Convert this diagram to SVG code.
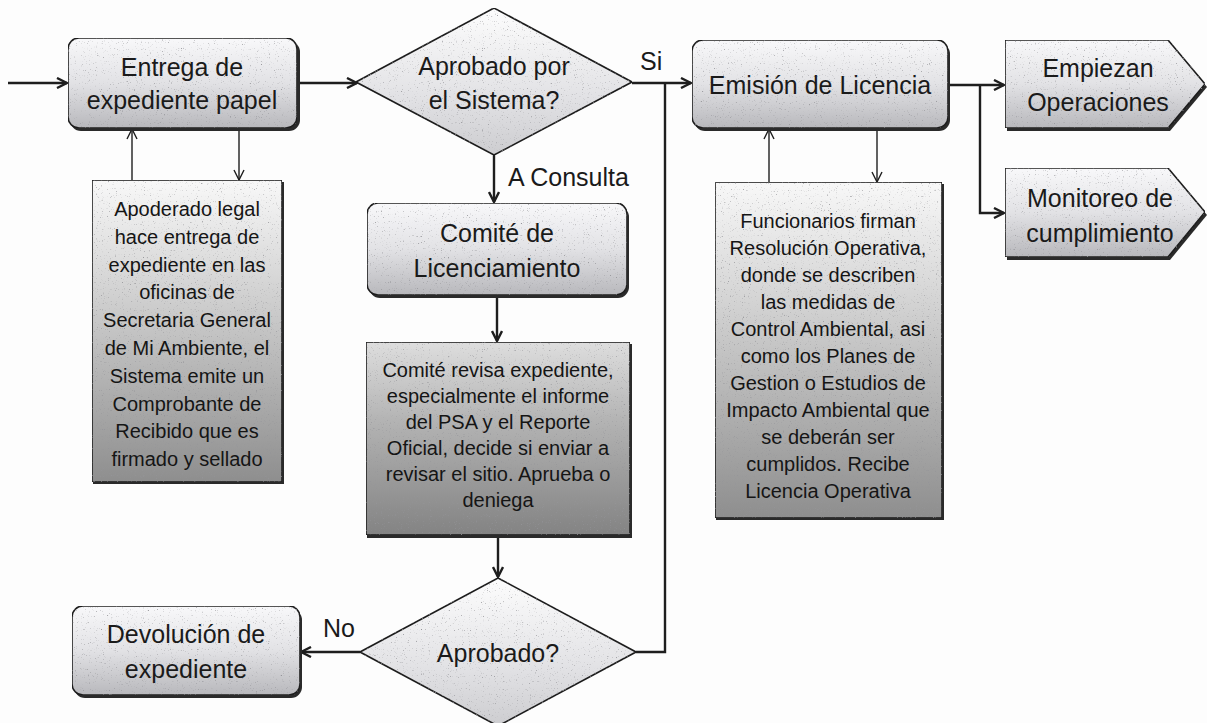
<svg xmlns="http://www.w3.org/2000/svg" width="1207" height="723" viewBox="0 0 1207 723">
<defs>
<linearGradient id="gMain" x1="0" y1="0" x2="0" y2="1">
<stop offset="0" stop-color="#f8f8fa"/><stop offset="0.5" stop-color="#e2e2e5"/><stop offset="1" stop-color="#b8b8bc"/>
</linearGradient>
<linearGradient id="gDia" x1="0" y1="0" x2="0" y2="1">
<stop offset="0" stop-color="#fdfdfd"/><stop offset="0.6" stop-color="#e2e2e5"/><stop offset="1" stop-color="#cdcdd0"/>
</linearGradient>
<linearGradient id="gNote" x1="0" y1="0" x2="0" y2="1">
<stop offset="0" stop-color="#f8f8f8"/><stop offset="0.35" stop-color="#d4d4d4"/><stop offset="1" stop-color="#8e8e8e"/>
</linearGradient>
<linearGradient id="gDark" x1="0" y1="0" x2="0" y2="1">
<stop offset="0" stop-color="#dedede"/><stop offset="0.4" stop-color="#b4b4b4"/><stop offset="1" stop-color="#838383"/>
</linearGradient>
<filter id="noise" x="0" y="0" width="100%" height="100%">
<feTurbulence type="fractalNoise" baseFrequency="0.85" numOctaves="2" seed="3" result="t"/>
<feColorMatrix in="t" type="matrix" values="0 0 0 0 0.3  0 0 0 0 0.3  0 0 0 0 0.32  4 0 0 0 -2.6" result="n"/>
<feComposite in="n" in2="SourceGraphic" operator="in" result="nc"/>
<feMerge><feMergeNode in="SourceGraphic"/><feMergeNode in="nc"/></feMerge>
</filter>
<marker id="ah" viewBox="0 0 12 12" refX="11" refY="6" markerWidth="12" markerHeight="12" markerUnits="userSpaceOnUse" orient="auto">
<path d="M1,1 L11,6 L1,11" fill="none" stroke="#1e1e1e" stroke-width="2.4"/>
</marker>
<marker id="ahs" viewBox="0 0 12 12" refX="11" refY="6" markerWidth="12" markerHeight="12" markerUnits="userSpaceOnUse" orient="auto">
<path d="M1,1 L11,6 L1,11" fill="none" stroke="#1e1e1e" stroke-width="1.4"/>
</marker>
</defs>
<style>
.box{stroke:#1e1e1e;stroke-width:1.6;filter:url(#noise)}
.sh{fill:#2a2a2a}
.lbl{font-family:"Liberation Sans",Arial,sans-serif;font-size:25px;fill:#1a1a1a;text-anchor:middle}
.note{font-family:"Liberation Sans",Arial,sans-serif;font-size:20px;fill:#151515;text-anchor:middle}
.edge{font-family:"Liberation Sans",Arial,sans-serif;font-size:25px;fill:#1a1a1a}
.c{fill:none;stroke:#1e1e1e;stroke-width:2.4}
.cs{fill:none;stroke:#1e1e1e;stroke-width:1.4}
</style>
<rect width="1207" height="723" fill="#fdfdfd"/>

<g id="connectors">
<line class="c" x1="8" y1="83" x2="67" y2="83" marker-end="url(#ah)"/>
<line class="c" x1="298" y1="83" x2="357" y2="83" marker-end="url(#ah)"/>
<line class="c" x1="632" y1="83" x2="691" y2="83" marker-end="url(#ah)"/>
<polyline class="c" points="636,652 665,652 665,83"/>
<line class="c" x1="494" y1="155" x2="494" y2="202" marker-end="url(#ah)"/>
<line class="c" x1="497" y1="296" x2="497" y2="341" marker-end="url(#ah)"/>
<line class="c" x1="498" y1="536" x2="498" y2="577" marker-end="url(#ah)"/>
<line class="c" x1="360" y1="652" x2="301" y2="652" marker-end="url(#ah)"/>
<line class="c" x1="949" y1="85" x2="1004" y2="85" marker-end="url(#ah)"/>
<polyline class="c" points="980,85 980,213 1004,213" marker-end="url(#ah)"/>
<line class="cs" x1="132" y1="180" x2="132" y2="129" marker-end="url(#ahs)"/>
<line class="cs" x1="239" y1="129" x2="239" y2="180" marker-end="url(#ahs)"/>
<line class="cs" x1="769" y1="182" x2="769" y2="129" marker-end="url(#ahs)"/>
<line class="cs" x1="877" y1="129" x2="877" y2="182" marker-end="url(#ahs)"/>
<text class="edge" x="640" y="70">Si</text>
<text class="edge" x="508" y="186">A Consulta</text>
<text class="edge" x="323" y="637">No</text>
</g>

<g id="entrega">
<rect class="sh" x="70" y="41" width="230" height="90" rx="11"/>
<rect class="box" x="68" y="38" width="229" height="90" rx="11" fill="url(#gMain)"/>
<text class="lbl" x="182" y="76">Entrega de</text>
<text class="lbl" x="182" y="109">expediente papel</text>
</g>

<g id="apoderado">
<rect class="sh" x="93" y="182" width="191" height="302"/>
<rect class="box" x="92" y="180" width="190" height="302" fill="url(#gNote)"/>
<text class="note" x="187" y="216">Apoderado legal</text>
<text class="note" x="187" y="244">hace entrega de</text>
<text class="note" x="187" y="272">expediente en las</text>
<text class="note" x="187" y="299">oficinas de</text>
<text class="note" x="187" y="327">Secretaria General</text>
<text class="note" x="187" y="355">de Mi Ambiente, el</text>
<text class="note" x="187" y="383">Sistema emite un</text>
<text class="note" x="187" y="411">Comprobante de</text>
<text class="note" x="187" y="438">Recibido que es</text>
<text class="note" x="187" y="466">firmado y sellado</text>
</g>

<g id="aprobado-sistema">
<polygon class="box" points="494,8 632,82 494,155 356,82" fill="url(#gDia)"/>
<text class="lbl" x="494" y="75">Aprobado por</text>
<text class="lbl" x="494" y="109">el Sistema?</text>
</g>

<g id="comite">
<rect class="sh" x="369" y="206" width="260" height="92" rx="11"/>
<rect class="box" x="367" y="203" width="260" height="92" rx="11" fill="url(#gMain)"/>
<text class="lbl" x="497" y="242">Comité de</text>
<text class="lbl" x="497" y="277">Licenciamiento</text>
</g>

<g id="comite-revisa">
<rect class="sh" x="367" y="344" width="265" height="194"/>
<rect class="box" x="366" y="342" width="264" height="193" fill="url(#gDark)"/>
<text class="note" x="498" y="377">Comité revisa expediente,</text>
<text class="note" x="498" y="403">especialmente el informe</text>
<text class="note" x="498" y="429">del PSA  y el Reporte</text>
<text class="note" x="498" y="455">Oficial, decide si enviar a</text>
<text class="note" x="498" y="481">revisar el sitio. Aprueba o</text>
<text class="note" x="498" y="507">deniega</text>
</g>

<g id="aprobado">
<polygon class="box" points="498,578 636,652 498,726 360,652" fill="url(#gDia)"/>
<text class="lbl" x="498" y="662">Aprobado?</text>
</g>

<g id="devolucion">
<rect class="sh" x="74" y="609" width="228" height="89" rx="11"/>
<rect class="box" x="72" y="606" width="228" height="89" rx="11" fill="url(#gMain)"/>
<text class="lbl" x="186" y="643">Devolución de</text>
<text class="lbl" x="186" y="678">expediente</text>
</g>

<g id="emision">
<rect class="sh" x="694" y="43" width="256" height="88" rx="11"/>
<rect class="box" x="692" y="40" width="256" height="88" rx="11" fill="url(#gMain)"/>
<text class="lbl" x="820" y="94">Emisión de Licencia</text>
</g>

<g id="funcionarios">
<rect class="sh" x="716" y="184" width="228" height="336"/>
<rect class="box" x="715" y="182" width="227" height="336" fill="url(#gNote)"/>
<text class="note" x="828" y="228">Funcionarios firman</text>
<text class="note" x="828" y="255">Resolución Operativa,</text>
<text class="note" x="828" y="282">donde se describen</text>
<text class="note" x="828" y="309">las medidas de</text>
<text class="note" x="828" y="336">Control Ambiental, asi</text>
<text class="note" x="828" y="363">como los Planes de</text>
<text class="note" x="828" y="390">Gestion o Estudios de</text>
<text class="note" x="828" y="417">Impacto Ambiental que</text>
<text class="note" x="828" y="444">se deberán ser</text>
<text class="note" x="828" y="471">cumplidos. Recibe</text>
<text class="note" x="828" y="498">Licencia Operativa</text>
</g>

<g id="empiezan">
<polygon class="sh" points="1007,43 1170,43 1207,87 1170,131 1007,131"/>
<polygon class="box" points="1005,40 1168,40 1205,84 1168,128 1005,128" fill="url(#gMain)"/>
<text class="lbl" x="1098" y="77">Empiezan</text>
<text class="lbl" x="1098" y="111">Operaciones</text>
</g>

<g id="monitoreo">
<polygon class="sh" points="1007,171 1170,171 1207,215 1170,260 1007,260"/>
<polygon class="box" points="1005,168 1168,168 1205,212 1168,257 1005,257" fill="url(#gMain)"/>
<text class="lbl" x="1100" y="207">Monitoreo de</text>
<text class="lbl" x="1100" y="242">cumplimiento</text>
</g>
</svg>
